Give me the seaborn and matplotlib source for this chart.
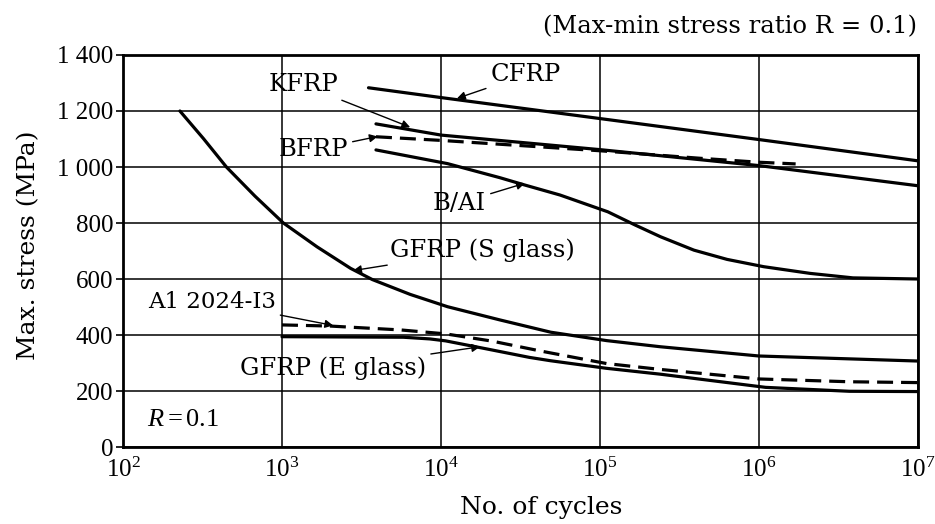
import numpy as np
import pandas as pd
import seaborn as sns
import matplotlib
matplotlib.use("Agg")
import matplotlib.pyplot as plt
from matplotlib.ticker import FixedLocator, FixedFormatter, NullLocator, LogFormatterSciNotation

sns.set_theme(style="white")
plt.rcParams["font.family"] = ["Liberation Serif", "DejaVu Serif"]
plt.rcParams["text.color"] = "black"
plt.rcParams["mathtext.fontset"] = "custom"
plt.rcParams["mathtext.rm"] = "Liberation Serif"
plt.rcParams["mathtext.it"] = "Liberation Serif:italic"

# S-N curves (cycles, MPa)
cfrp_n = [3.5e3, 1e4, 1e5, 1e6, 1e7]
cfrp_s = [1283, 1248, 1173, 1098, 1022]

kfrp_n = [3.9e3, 1e4, 1e5, 1e6, 1e7]
kfrp_s = [1154, 1114, 1062, 1005, 933]

bfrp_n = [3.9e3, 1e4, 1e5, 4.3e5, 1e6, 1.7e6]
bfrp_s = [1108, 1095, 1058, 1031, 1017, 1011]

bal_n = [3.9e3, 1.1e4, 2.34e4, 3.3e4, 5.6e4, 1.12e5, 1.66e5, 2.4e5, 3.9e5,
         6.3e5, 1.07e6, 2.1e6, 3.9e6, 1e7]
bal_s = [1061, 1012, 962, 937, 900, 840, 793, 751, 703,
         670, 644, 620, 604, 600]

sglass_n = [228, 320, 447, 676, 1.02e3, 1.66e3, 2.7e3, 3.7e3, 6.4e3, 1.1e4,
            2.34e4, 4.9e4, 1.1e5, 2.4e5, 1e6, 1e7]
sglass_s = [1200, 1102, 1000, 896, 800, 715, 638, 598, 545, 501,
            454, 410, 380, 358, 325, 307]

eglass_n = [1e3, 5.8e3, 8.5e3, 1.07e4, 1.95e4, 3.6e4, 4.9e4, 1.1e5, 2.4e5,
            1.1e6, 3.7e6, 1e7]
eglass_s = [394, 392, 386, 379, 350, 320, 308, 281, 260, 213, 199, 198]

al_n = [1e3, 2e3, 5.6e3, 1.07e4, 2.1e4, 4.3e4, 1.1e5, 2.4e5, 1e6, 3.7e6, 1e7]
al_s = [436, 432, 418, 404, 378, 342, 298, 277, 243, 233, 230]

y_ticks = [0, 200, 400, 600, 800, 1000, 1200, 1400]
y_labels = ["0", "200", "400", "600", "800", "1 000", "1 200", "1 400"]
x_ticks = [1e2, 1e3, 1e4, 1e5, 1e6, 1e7]

fig = plt.figure(figsize=(9.35, 5.24), dpi=100)
ax = fig.add_axes([123 / 935, 77 / 524, 795 / 935, 392 / 524])

lw = 2.3
for n, s, ls in [(cfrp_n, cfrp_s, "-"), (kfrp_n, kfrp_s, "-"), (bfrp_n, bfrp_s, "--"),
                 (bal_n, bal_s, "-"), (sglass_n, sglass_s, "-"),
                 (eglass_n, eglass_s, "-"), (al_n, al_s, "--")]:
    sns.lineplot(x=n, y=s, ax=ax, color="black", lw=lw, linestyle=ls)
for line in ax.get_lines():
    line.set_solid_joinstyle("round")
    if line.get_linestyle() == "--":
        line.set_dashes([5, 2.5])

ax.set_xscale("log")
ax.set_xlim(1e2, 1e7)
ax.set_ylim(0, 1400)
ax.xaxis.set_major_locator(FixedLocator(x_ticks))
ax.xaxis.set_major_formatter(LogFormatterSciNotation())
ax.xaxis.set_minor_locator(NullLocator())
ax.yaxis.set_major_locator(FixedLocator(y_ticks))
ax.yaxis.set_major_formatter(FixedFormatter(y_labels))
ax.grid(True, color="black", lw=1.1)
ax.set_axisbelow(True)
for sp in ax.spines.values():
    sp.set_color("black")
    sp.set_linewidth(2)
ax.tick_params(axis="y", direction="out", length=5, width=1.2, labelsize=18,
               colors="black", pad=2, left=True)
ax.tick_params(axis="x", length=0, labelsize=18, colors="black", pad=8)

lab_font = ["DejaVu Serif"]
ax.set_xlabel("No. of cycles", fontsize=18, color="black", family=lab_font)
ax.xaxis.set_label_coords((541 - 123) / 795, (447 - 496) / 392)
ax.set_ylabel("Max. stress (MPa)", fontsize=18, color="black", family=lab_font)
ax.yaxis.set_label_coords((40 - 123) / 795, (447 - 245) / 392)

arrow = dict(arrowstyle="-|>", color="black", lw=1.0, mutation_scale=12,
             shrinkA=1, shrinkB=0)
fs = 17.5
kw = dict(fontsize=fs, va="center", color="black", family=lab_font, arrowprops=arrow)
ax.annotate("CFRP", xy=(1.26e4, 1245), xytext=(2.05e4, 1329), ha="left", **kw)
ax.annotate("KFRP", xy=(6.4e3, 1142), xytext=(2.25e3, 1293), ha="right", **kw)
ax.annotate("BFRP", xy=(4.0e3, 1109), xytext=(2.6e3, 1061), ha="right", **kw)
ax.annotate("B/AI", xy=(3.37e4, 942), xytext=(8.9e3, 871), ha="left", **kw)
ax.annotate("GFRP (S glass)", xy=(2.8e3, 630), xytext=(4.8e3, 704), ha="left", **kw)
ax.annotate("A1 2024-I3", xy=(2.1e3, 434), xytext=(143, 519), ha="left",
            **{**kw, "fontsize": fs - 1})
ax.annotate("GFRP (E glass)", xy=(1.76e4, 358), xytext=(545, 281), ha="left", **kw)
ax.text(141, 96, "$R$$=$0.1", fontsize=19, ha="left", va="center", color="black")

fig.text(917 / 935, 1 - 27 / 524, "(Max-min stress ratio R = 0.1)", fontsize=17.5,
         ha="right", va="center", color="black", family=lab_font)

fig.savefig("out.png", dpi=100, facecolor="white")
